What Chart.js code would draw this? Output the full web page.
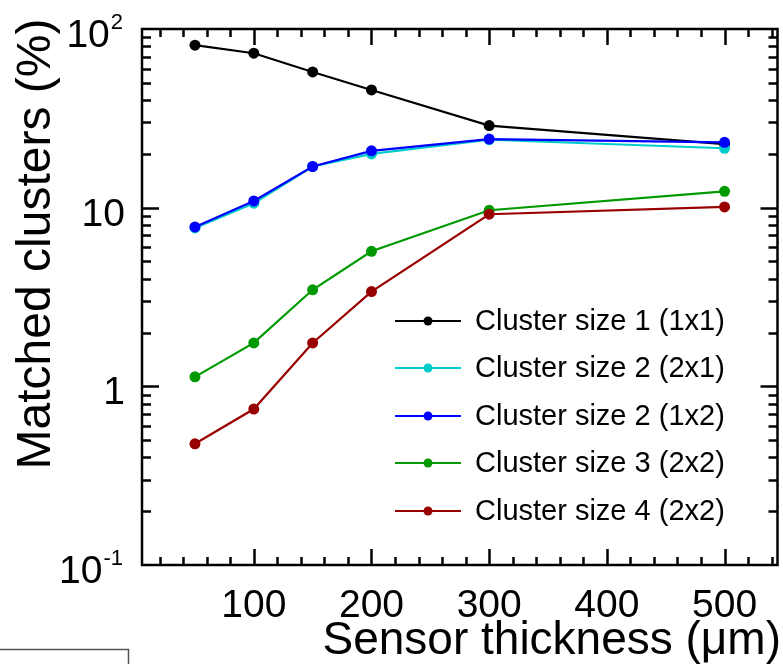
<!DOCTYPE html>
<html>
<head>
<meta charset="utf-8">
<script src="https://cdn.jsdelivr.net/npm/chart.js@4.4.1/dist/chart.umd.min.js"></script>
<style>
  html, body { margin: 0; padding: 0; background: #fff; }
  #wrap { width: 783px; height: 664px; position: relative; }
</style>
</head>
<body>
<div id="wrap"><canvas id="chart"></canvas></div>
<script>
// Sensor thickness (um) and matched cluster fractions (%)
const thickness = [50, 100, 150, 200, 300, 500];

const size1x1 = [81.2, 73.2, 57.5, 45.6, 28.8, 22.7];
const size2x1 = [7.7, 10.6, 17.0, 20.0, 24.0, 21.5];
const size1x2 = [7.8, 10.9, 17.0, 20.8, 24.2, 23.2];
const size2x2a = [1.13, 1.75, 3.47, 5.7, 9.67, 12.35];
const size2x2b = [0.477, 0.746, 1.75, 3.39, 9.19, 10.09];

const seriesLabels = [
    'Cluster size 1 (1x1)',
    'Cluster size 2 (2x1)',
    'Cluster size 2 (1x2)',
    'Cluster size 3 (2x2)',
    'Cluster size 4 (2x2)'
];
const seriesColors = ['#000000', '#00cccc', '#0000ff', '#009900', '#990000'];
const seriesValues = [size1x1, size2x1, size1x2, size2x2a, size2x2b];

const xTicks = [100, 200, 300, 400, 500];
const yTicks = [0.1, 1, 10, 100];
const yTickLabels = [['10', '-1'], ['1', ''], ['10', ''], ['10', '2']];

const FONT = '"Liberation Sans", Arial, Helvetica, sans-serif';

function makeDataset(i) {
    return {
        label: seriesLabels[i],
        data: thickness.map((x, k) => ({ x: x, y: seriesValues[i][k] })),
        borderColor: seriesColors[i],
        backgroundColor: seriesColors[i],
        borderWidth: 2.2,
        pointRadius: 5.5,
        pointHoverRadius: 5.5,
        pointBorderWidth: 0,
        tension: 0,
        // later series are drawn on top
        order: seriesLabels.length - i
    };
}

// Frame, inward ticks, tick labels, axis titles and legend
const framePlugin = {
    id: 'frame',
    afterDraw(chart) {
        const ctx = chart.ctx;
        const a = chart.chartArea;
        const xs = chart.scales.x;
        const ys = chart.scales.y;
        ctx.save();

        // inward ticks on all four sides
        ctx.strokeStyle = '#000';
        ctx.lineWidth = 2.5;
        ctx.beginPath();
        for (let v = 20; v < xs.max; v += 20) {
            if (v < xs.min) continue;
            const px = Math.round(xs.getPixelForValue(v)) + 0.5;
            const len = v % 100 === 0 ? 16 : 8;
            ctx.moveTo(px, a.bottom); ctx.lineTo(px, a.bottom - len);
            ctx.moveTo(px, a.top); ctx.lineTo(px, a.top + len);
        }
        for (let d = 0.1; d < 100; d *= 10) {
            for (let m = 1; m <= 10; m++) {
                const v = d * m;
                if (v <= ys.min * 1.0001 || v >= ys.max * 0.9999) continue;
                const py = Math.round(ys.getPixelForValue(v)) + 0.5;
                const len = m === 1 || m === 10 ? 17 : 9;
                ctx.moveTo(a.left, py); ctx.lineTo(a.left + len, py);
                ctx.moveTo(a.right, py); ctx.lineTo(a.right - len, py);
            }
        }
        ctx.stroke();

        // frame
        ctx.lineWidth = 2.5;
        ctx.strokeRect(a.left, a.top, a.right - a.left, a.bottom - a.top);

        // x tick labels
        ctx.fillStyle = '#000';
        ctx.font = '39px ' + FONT;
        ctx.textAlign = 'center';
        ctx.textBaseline = 'alphabetic';
        xTicks.forEach(v => {
            ctx.fillText(String(v), xs.getPixelForValue(v), 617);
        });

        // y tick labels with superscript exponents
        yTicks.forEach((v, i) => {
            const py = ys.getPixelForValue(v);
            const base = yTickLabels[i][0];
            const exp = yTickLabels[i][1];
            let right = 125;
            ctx.textAlign = 'right';
            if (exp) {
                ctx.font = '22px ' + FONT;
                ctx.fillText(exp, 123, py);
                right = 123 - ctx.measureText(exp).width - 1;
            }
            ctx.font = '39px ' + FONT;
            ctx.fillText(base, right, py + 18);
        });

        // axis titles
        ctx.font = '46px ' + FONT;
        ctx.textAlign = 'right';
        ctx.fillText('Sensor thickness (\u03bcm)', 781, 654);

        ctx.save();
        ctx.translate(50, 244);
        ctx.rotate(-Math.PI / 2);
        ctx.font = '48px ' + FONT;
        ctx.textAlign = 'center';
        ctx.fillText('Matched clusters (%)', 0, 0);
        ctx.restore();

        // legend
        const rowY = [321, 368, 416, 463, 511];
        ctx.font = '29px ' + FONT;
        ctx.textAlign = 'left';
        ctx.textBaseline = 'middle';
        seriesLabels.forEach((label, i) => {
            const y = rowY[i];
            ctx.strokeStyle = seriesColors[i];
            ctx.fillStyle = seriesColors[i];
            ctx.lineWidth = 2.2;
            ctx.beginPath();
            ctx.moveTo(395, y); ctx.lineTo(461, y);
            ctx.stroke();
            ctx.beginPath();
            ctx.arc(428, y, 4.5, 0, Math.PI * 2);
            ctx.fill();
            ctx.fillStyle = '#000';
            ctx.fillText(label, 475, y + 1);
        });

        // stray box edge at the bottom left
        ctx.strokeStyle = '#555';
        ctx.lineWidth = 1.5;
        ctx.beginPath();
        ctx.moveTo(0, 649.5); ctx.lineTo(128.5, 649.5); ctx.lineTo(128.5, 664);
        ctx.stroke();

        ctx.restore();
    }
};

new Chart(document.getElementById('chart').getContext('2d'), {
    type: 'line',
    data: {
        datasets: seriesValues.map((_, i) => makeDataset(i))
    },
    options: {
        responsive: true,
        maintainAspectRatio: false,
        animation: false,
        layout: {
            padding: { left: 142, top: 29, right: 3, bottom: 99 }
        },
        plugins: {
            legend: { display: false },
            tooltip: { enabled: false }
        },
        scales: {
            x: {
                type: 'linear',
                display: false,
                min: 5,
                max: 545
            },
            y: {
                type: 'logarithmic',
                display: false,
                min: 0.1,
                max: 100
            }
        }
    },
    plugins: [framePlugin]
});
</script>
</body>
</html>
